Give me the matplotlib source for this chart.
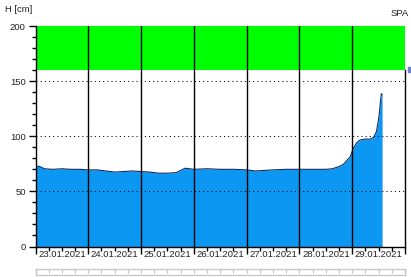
import pandas as pd
import matplotlib
matplotlib.use("Agg")
import matplotlib.pyplot as plt
import matplotlib.dates as mdates
from matplotlib.ticker import MultipleLocator
from matplotlib.patches import Rectangle

plt.rcParams["font.family"] = "Liberation Sans"

# Wasserstand (cm)
times = ["2021-01-23 00:00", "2021-01-23 02:00", "2021-01-23 04:00", "2021-01-23 08:00",
         "2021-01-23 12:00", "2021-01-23 16:00", "2021-01-23 20:00", "2021-01-24 00:00",
         "2021-01-24 04:00", "2021-01-24 08:00", "2021-01-24 12:00", "2021-01-24 16:00",
         "2021-01-24 20:00", "2021-01-25 00:00", "2021-01-25 04:00", "2021-01-25 08:00",
         "2021-01-25 12:00", "2021-01-25 16:00", "2021-01-25 18:00", "2021-01-25 20:00",
         "2021-01-25 22:00", "2021-01-26 00:00", "2021-01-26 06:00", "2021-01-26 12:00",
         "2021-01-26 18:00", "2021-01-27 00:00", "2021-01-27 04:00", "2021-01-27 08:00",
         "2021-01-27 12:00", "2021-01-27 18:00", "2021-01-28 00:00", "2021-01-28 06:00",
         "2021-01-28 12:00", "2021-01-28 15:00", "2021-01-28 18:00", "2021-01-28 20:00",
         "2021-01-28 21:30", "2021-01-28 23:00", "2021-01-29 00:30", "2021-01-29 02:00",
         "2021-01-29 03:30", "2021-01-29 06:00", "2021-01-29 08:00", "2021-01-29 09:40",
         "2021-01-29 11:00", "2021-01-29 11:40", "2021-01-29 12:20", "2021-01-29 12:45",
         "2021-01-29 13:15", "2021-01-29 13:35"]
levels = [73, 72.5, 70.5, 70, 70.5, 70, 70, 69.5,
          69.5, 68.5, 67.5, 68, 68.5, 68, 67.5, 66.5,
          66.5, 67, 69, 71, 70.5, 70, 70.5, 70,
          70, 69.5, 68.5, 69, 69.5, 70, 70, 70,
          70, 70.5, 72.5, 74.5, 78, 81, 89, 94,
          96.5, 97.5, 97.3, 98.8, 104, 111.5, 120.5, 129.5,
          138.5, 138]

day_labels = ["23.01.2021", "24.01.2021", "25.01.2021", "26.01.2021",
              "27.01.2021", "28.01.2021", "29.01.2021"]

t = pd.to_datetime(times)
x_start = pd.Timestamp("2021-01-23")
x_end = pd.Timestamp("2021-01-30")

fig = plt.figure(figsize=(4.11, 2.77), dpi=100)
ax = fig.add_axes([35.5 / 411, 1 - 246.5 / 277, 369.5 / 411, 220.5 / 277])

# Warnbereich oben (gruen)
ax.axhspan(160, 200, color="#00ff00", zorder=1, lw=0)

# Pegelflaeche
ax.fill_between(t, levels, 0, color="#0c97f2", lw=0, zorder=2)
ax.plot(t, levels, color="#0b2a66", lw=0.8, zorder=3)

ax.set_xlim(x_start, x_end)
ax.set_ylim(0, 200)

# Gitter: Tageslinien durchgezogen, horizontale gepunktet
days = pd.date_range(x_start, x_end, freq="D")
for d in days[1:-1]:
    ax.axvline(d, color="black", lw=1.0, zorder=4)
# rechter Rand nur unterhalb des gruenen Bereichs
ax.axvline(x_end, ymax=0.8, color="black", lw=1.0, zorder=4, clip_on=False)
for yv in [50, 100, 150]:
    ax.axhline(yv, color="black", lw=0.75, ls=(0, (1, 3)), zorder=4)

# Achsen
for s in ["top", "right"]:
    ax.spines[s].set_visible(False)
ax.spines["left"].set_linewidth(1.0)
ax.spines["bottom"].set_linewidth(1.0)

ax.yaxis.set_major_locator(MultipleLocator(50))
ax.yaxis.set_minor_locator(MultipleLocator(10))
ax.xaxis.set_major_locator(mdates.DayLocator())
ax.xaxis.set_minor_locator(mdates.HourLocator(byhour=[6, 12, 18]))
ax.xaxis.set_major_formatter(plt.NullFormatter())
ax.tick_params(axis="both", which="major", length=5, width=1, direction="out",
               labelsize=6.8, colors="black", labelcolor="#222222")
ax.tick_params(axis="both", which="minor", length=3, width=1, direction="out")
ax.tick_params(axis="y", pad=2)

# Datumsbeschriftung in Tagesmitte
for d, lab in zip(days[:-1], day_labels):
    ax.text(d + pd.Timedelta(hours=12), -3.5, lab, ha="center", va="top",
            fontsize=6.8, color="#222222")

fig.text(5 / 411, 1 - 10 / 277, "H [cm]", fontsize=6.8, color="#222222",
         ha="left", va="center")
fig.text(391 / 411, 1 - 14 / 277, "SPA", fontsize=6.8, color="#222222",
         ha="left", va="center")
fig.patches.append(Rectangle((408 / 411, 1 - 72 / 277), 3 / 411, 5 / 277,
                             transform=fig.transFigure, color="#6b7fd6"))

# Scrollleiste unten
sb = fig.add_axes([35.5 / 411, 1 - 275 / 277, 369.5 / 411, 6 / 277])
sb.set_xlim(x_start, x_end)
sb.set_ylim(0, 1)
for s in sb.spines.values():
    s.set_color("#c8c8c8")
    s.set_linewidth(1)
sb.set_yticks([])
sb.xaxis.set_major_locator(mdates.HourLocator(byhour=[0, 6, 12, 18]))
sb.xaxis.set_major_formatter(plt.NullFormatter())
sb.xaxis.tick_top()
sb.tick_params(axis="x", direction="in", length=3, color="#c8c8c8", width=1)

fig.savefig("out.png", dpi=100)
